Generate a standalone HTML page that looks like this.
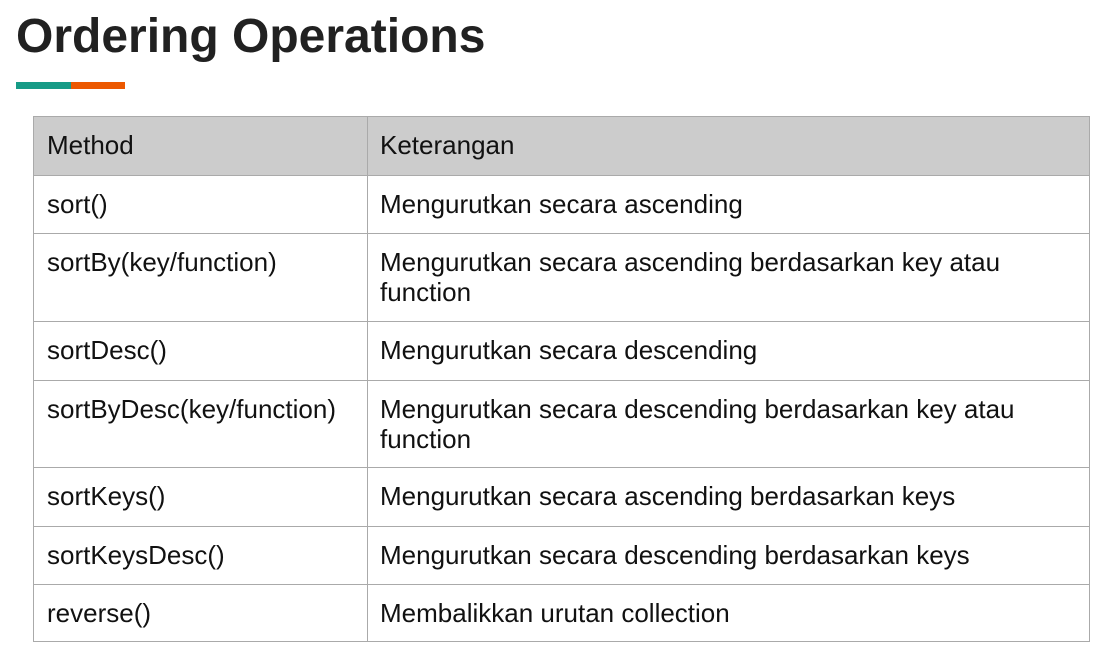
<!DOCTYPE html>
<html><head><meta charset="utf-8"><style>
html,body{margin:0;padding:0;background:#fff;width:1099px;height:650px;overflow:hidden;position:relative;font-family:"Liberation Sans",Arial,sans-serif;color:#1a1a1a}
h1{position:absolute;left:16px;top:9px;margin:0;font-size:48px;font-weight:bold;line-height:56px;color:#212121;letter-spacing:0px}
.bar{position:absolute;top:82px;height:7px}
.r{position:absolute;left:33px;width:1057px;border:1px solid #aaa;box-sizing:border-box;}
.c{position:absolute;top:0;bottom:0;padding-top:13px;font-size:26px;line-height:30px;box-sizing:border-box;color:#111;white-space:nowrap}
.c1{left:13px}
.c2{left:346px}
.div{position:absolute;left:333px;top:0;bottom:0;width:1px;background:#aaa}
</style></head><body>
<h1>Ordering Operations</h1>
<div class="bar" style="left:16px;width:55px;background:#169b86"></div>
<div class="bar" style="left:71px;width:54px;background:#ec5800"></div>

<div class="r" style="top:116px;height:60px;background:#cccccc"><div class="div"></div><div class="c c1">Method</div><div class="c c2">Keterangan</div></div>
<div class="r" style="top:175px;height:59px"><div class="div"></div><div class="c c1">sort()</div><div class="c c2">Mengurutkan secara ascending</div></div>
<div class="r" style="top:233px;height:89px"><div class="div"></div><div class="c c1">sortBy(key/function)</div><div class="c c2">Mengurutkan secara ascending berdasarkan key atau<br>function</div></div>
<div class="r" style="top:321px;height:60px"><div class="div"></div><div class="c c1">sortDesc()</div><div class="c c2">Mengurutkan secara descending</div></div>
<div class="r" style="top:380px;height:88px"><div class="div"></div><div class="c c1">sortByDesc(key/function)</div><div class="c c2">Mengurutkan secara descending berdasarkan key atau<br>function</div></div>
<div class="r" style="top:467px;height:60px"><div class="div"></div><div class="c c1">sortKeys()</div><div class="c c2">Mengurutkan secara ascending berdasarkan keys</div></div>
<div class="r" style="top:526px;height:59px"><div class="div"></div><div class="c c1">sortKeysDesc()</div><div class="c c2">Mengurutkan secara descending berdasarkan keys</div></div>
<div class="r" style="top:584px;height:58px"><div class="div"></div><div class="c c1">reverse()</div><div class="c c2">Membalikkan urutan collection</div></div>
</body></html>
